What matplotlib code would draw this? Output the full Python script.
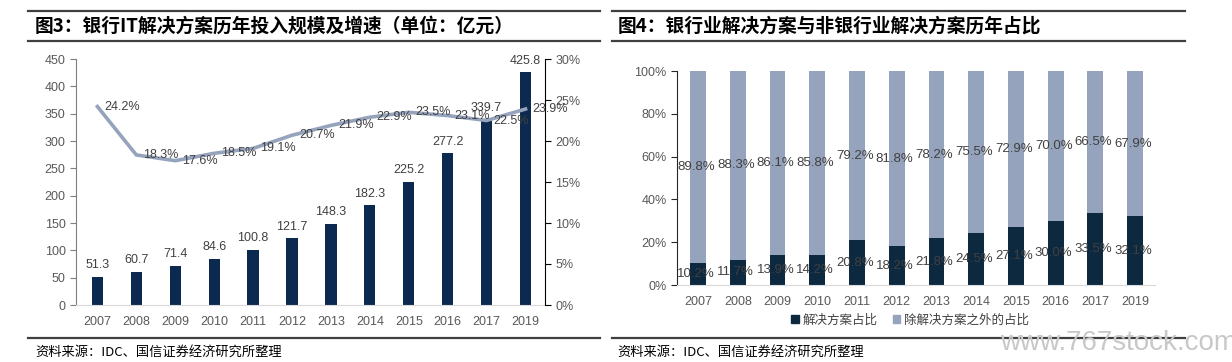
import numpy as np
import matplotlib
matplotlib.use("Agg")
import matplotlib.pyplot as plt
from matplotlib.patches import Patch
from matplotlib.lines import Line2D

plt.rcParams['font.family'] = ['Liberation Sans', 'Noto Sans CJK SC', 'DejaVu Sans']
CJK = ['Noto Sans CJK SC', 'DejaVu Sans']

years = ['2007', '2008', '2009', '2010', '2011', '2012',
         '2013', '2014', '2015', '2016', '2017', '2019']

# chart 3: investment (亿元) and growth (%)
invest = [51.3, 60.7, 71.4, 84.6, 100.8, 121.7, 148.3, 182.3, 225.2, 277.2, 339.7, 425.8]
growth = [24.2, 18.3, 17.6, 18.5, 19.1, 20.7, 21.9, 22.9, 23.5, 23.1, 22.5, 23.9]

# chart 4: share of solutions vs. the rest (%)
share_sol = [10.2, 11.7, 13.9, 14.2, 20.8, 18.2, 21.8, 24.5, 27.1, 30.0, 33.5, 32.1]
share_other = [89.8, 88.3, 86.1, 85.8, 79.2, 81.8, 78.2, 75.5, 72.9, 70.0, 66.5, 67.9]

title3 = '图3：银行IT解决方案历年投入规模及增速（单位：亿元）'
title4 = '图4：银行业解决方案与非银行业解决方案历年占比'
source = '资料来源：IDC、国信证券经济研究所整理'
legend4 = ['解决方案占比', '除解决方案之外的占比']

navy = '#0c2a50'
navy2 = '#0d2940'
steel = '#95a3bd'
tick_c = '#595959'
lab_c = '#404040'

W, H = 1232, 362
fig = plt.figure(figsize=(W / 100, H / 100), dpi=100)

x = np.arange(len(years))

# ---------------- left chart ----------------
ax = fig.add_axes([76 / W, 1 - 305 / H, (545 - 76) / W, (305 - 59) / H])
bars = ax.bar(x, invest, width=0.29, color=navy, zorder=2)
ax.set_xlim(-0.55, 11.5)
ax.set_ylim(0, 450)
ax.set_yticks(np.arange(0, 451, 50))
ax.set_xticks(x)
ax.set_xticklabels(years)
for v, xi in zip(invest, x):
    ax.annotate(f'{v:.1f}', (xi, v), xytext=(0, 4), textcoords='offset points',
                ha='center', va='bottom', fontsize=9, color=lab_c)
for s in ['top', 'right']:
    ax.spines[s].set_visible(False)
ax.spines['left'].set_color('#7f7f7f')
ax.spines['bottom'].set_color('#d9d9d9')
ax.tick_params(axis='y', colors='#7f7f7f', labelcolor=tick_c, labelsize=9, length=4)
ax.tick_params(axis='x', length=0, labelcolor=tick_c, labelsize=9, pad=8)

ax2 = ax.twinx()
ax2.plot(x, growth, color=steel, lw=2.6, solid_joinstyle='round', zorder=3)
ax2.set_ylim(0, 30)
ax2.set_yticks(np.arange(0, 31, 5))
ax2.set_yticklabels([f'{t}%' for t in range(0, 31, 5)])
for v, xi in zip(growth, x):
    ax2.annotate(f'{v:.1f}%', (xi, v), xytext=(5, 0), textcoords='offset points',
                 ha='left', va='center', fontsize=9, color=lab_c)
for s in ['top', 'left', 'bottom']:
    ax2.spines[s].set_visible(False)
ax2.spines['right'].set_color('black')
ax2.tick_params(axis='y', colors='black', labelcolor=tick_c, labelsize=9, length=4)

# ---------------- right chart ----------------
bx = fig.add_axes([677 / W, 1 - 285 / H, (1155 - 677) / W, (285 - 71) / H])
bx.bar(x, share_sol, width=0.4, color=navy2, zorder=2)
bx.bar(x, share_other, width=0.4, bottom=share_sol, color=steel, zorder=2)
bx.set_xlim(-0.53, 11.5)
bx.set_ylim(0, 100)
bx.set_yticks(np.arange(0, 101, 20))
bx.set_yticklabels([f'{t}%' for t in range(0, 101, 20)])
bx.set_xticks(x)
bx.set_xticklabels(years)
for xi, a, b in zip(x, share_sol, share_other):
    bx.text(xi - 0.05, a / 2, f'{a:.1f}%', ha='center', va='center', fontsize=9.5, color=lab_c)
    bx.text(xi - 0.05, a + b / 2, f'{b:.1f}%', ha='center', va='center', fontsize=9.5, color=lab_c)
for s in ['top', 'right']:
    bx.spines[s].set_visible(False)
bx.spines['left'].set_color('#262626')
bx.spines['bottom'].set_color('#d9d9d9')
bx.tick_params(axis='y', colors='#262626', labelcolor=tick_c, labelsize=9, length=4)
bx.tick_params(axis='x', length=0, labelcolor=tick_c, labelsize=9, pad=8)

handles = [Patch(color=navy2), Patch(color=steel)]
fig.legend(handles, legend4, loc='center', bbox_to_anchor=(910 / W, 1 - 320 / H),
           ncol=2, frameon=False, handlelength=0.6, handleheight=0.6,
           handletextpad=0.3, columnspacing=1.2,
           prop={'family': CJK, 'size': 9}, labelcolor='#404040')

# ---------------- frame lines, titles, sources ----------------
for x0, x1 in [(28, 600), (612, 1185)]:
    for yy in [11, 41, 338]:
        fig.add_artist(Line2D([x0 / W, x1 / W], [1 - yy / H, 1 - yy / H],
                              color='#404040', lw=1.6))

fig.text(35 / W, 1 - 26 / H, title3, family=CJK, weight='bold', fontsize=13.5,
         va='center', ha='left', color='black')
fig.text(618 / W, 1 - 26 / H, title4, family=CJK, weight='bold', fontsize=13.5,
         va='center', ha='left', color='black')
fig.text(35 / W, 1 - 352 / H, source, family=CJK, fontsize=9.5,
         va='center', ha='left', color='black')
fig.text(617 / W, 1 - 352 / H, source, family=CJK, fontsize=9.5,
         va='center', ha='left', color='black')

fig.text(1000 / W, 1 - 343 / H, 'www.767stock.com', fontsize=20,
         color='#c8c8c8', va='center', ha='left')

fig.savefig('out.png', dpi=100)
